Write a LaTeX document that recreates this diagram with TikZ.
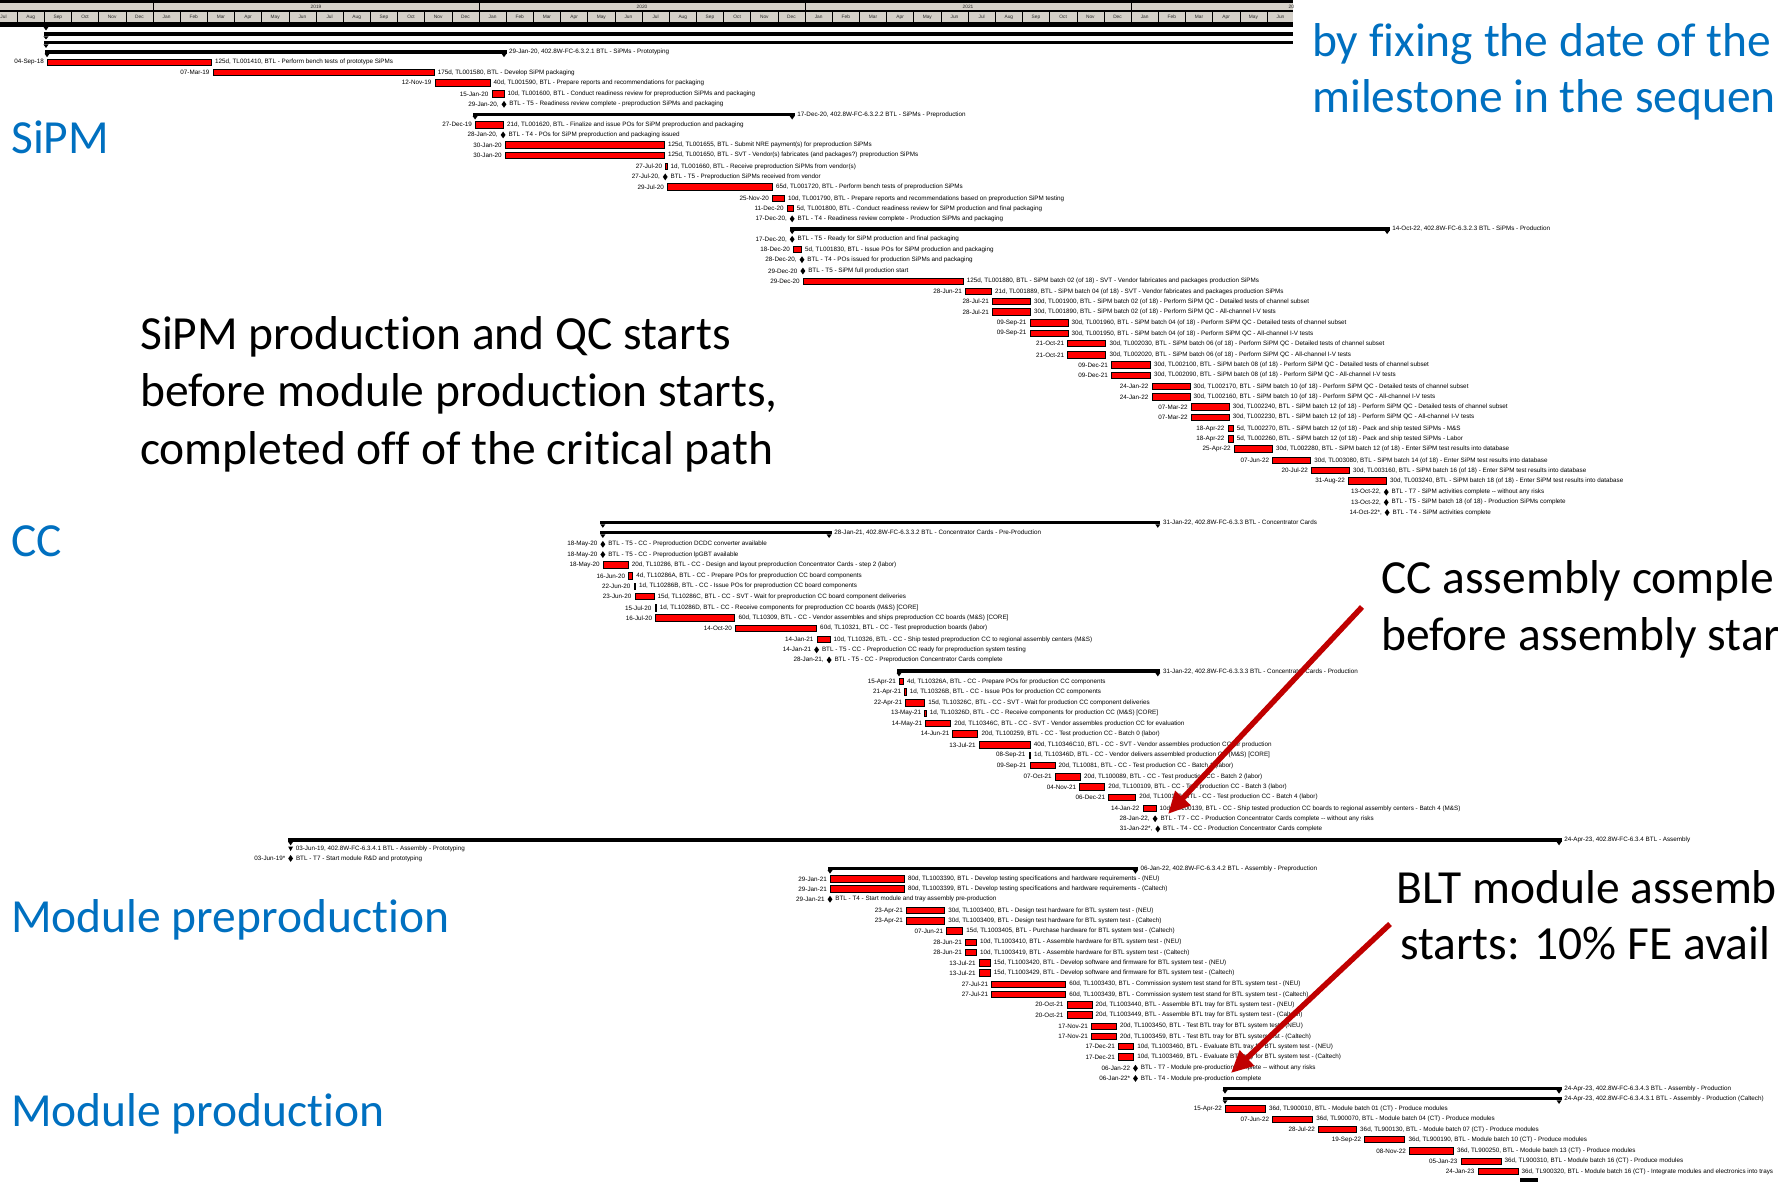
\documentclass[tikz,border=0pt]{standalone}
\usepackage{fontspec}
\setmainfont{Carlito}[Ligatures=NoCommon]
\newfontfamily\gfont{Liberation Sans}
\usetikzlibrary{shapes.geometric,arrows.meta}
\definecolor{hdrgray}{HTML}{D4D0C8}
\definecolor{noteblue}{HTML}{0070C0}
\definecolor{arrowred}{HTML}{C00000}
\definecolor{barred}{HTML}{FF0000}

% month name from index 0..11
\newcommand\gmonth[1]{\ifcase#1 Jan\or Feb\or Mar\or Apr\or May\or Jun\or Jul\or Aug\or Sep\or Oct\or Nov\or Dec\fi}

% task bar: name, row, year, month, day, width, start label, task text
\newcommand\gtask[8]{%
  \node[taskbar, minimum width={#6*1pt}, anchor=west] (#1) at ({gdx(#3,#4,#5)},{#2*1.134}) {};
  \node[lbl, anchor=east] (#1d) at ([xshift=-3pt]#1.west) {#7};
  \node[lbl, anchor=west] (#1t) at ([xshift=3pt]#1.east) {#8};
}
% milestone: name, row, year, month, day, date label, text
\newcommand\gms[7]{%
  \node[mdiamond] (#1) at ({gdx(#3,#4,#5)},{#2*1.134}) {};
  \node[lbl, anchor=east] (#1d) at ([xshift=-2.5pt]#1.west) {#6};
  \node[lbl, anchor=west] (#1t) at ([xshift=2.5pt]#1.east) {#7};
}
% summary bar: name, row, start y/m/d, end y/m/d, label
\newcommand\gsum[9]{%
  \pgfmathsetmacro\gxa{gdx(#3,#4,#5)}%
  \pgfmathsetmacro\gxb{gdx(#6,#7,#8)}%
  \pgfmathsetmacro\gyy{#2*1.134}%
  \fill (\gxa-2.5,\gyy-2) rectangle (\gxb+2.5,\gyy+1.5);
  \fill (\gxa-2.5,\gyy+1.5) -- (\gxa+2.5,\gyy+1.5) -- (\gxa,\gyy+5) -- cycle;
  \fill (\gxb-2.5,\gyy+1.5) -- (\gxb+2.5,\gyy+1.5) -- (\gxb,\gyy+5) -- cycle;
  \node[lbl, anchor=west] (#1) at (\gxb+5,\gyy) {#9};
}

\begin{document}
\begin{tikzpicture}[x=1pt,y=-1pt,
  declare function={gdx(\yr,\mo,\dy)=479+(\yr-2020)*326+(\mo-1)*27.17+(\dy-1)*0.893;},
  lbl/.style={font=\gfont\fontsize{6.3}{7}\selectfont, inner sep=0pt, text=black},
  hdr/.style={font=\gfont\fontsize{4.8}{5}\selectfont, inner sep=0pt, text=black!85},
  taskbar/.style={rectangle, fill=barred, draw=black, line width=0.9pt, minimum height=6.5pt, inner sep=0pt},
  mdiamond/.style={diamond, fill=black, inner sep=0pt, minimum width=5pt, minimum height=7pt},
  bignote/.style={font=\fontsize{47.5}{57}\selectfont, inner sep=0pt, anchor=base west},
  redarrow/.style={draw=arrowred, line width=5.5pt, -{Triangle[length=22pt,width=20pt]}}]

\clip (0,0) rectangle (1778,1182);
\fill[white] (0,0) rectangle (1778,1182);

% ---------- timescale header and top-level summaries ----------
\begin{scope}
\clip (0,0) rectangle (1293,60);
\fill[black] (0,0) rectangle (1293,3);
\fill[hdrgray] (0,3) rectangle (1293,10.5);
\fill[hdrgray] (0,11.5) rectangle (1293,22.5);
\draw[black, line width=0.5pt] (0,10.5) -- (1293,10.5) (0,11.5) -- (1293,11.5);
\foreach \yx in {152.96,479,805.04,1131.08}{
  \draw[black, line width=0.6pt] (\yx,3) -- (\yx,10.5);
}
\node[hdr] (y2019) at (316,7) {2019};
\node[hdr] (y2020) at (642,7) {2020};
\node[hdr] (y2021) at (968,7) {2021};
\node[hdr] (y2022) at (1294,7) {2022};
\foreach \k in {-18,...,29}{
  \pgfmathsetmacro\mx{479+\k*27.17}
  \pgfmathtruncatemacro\mi{mod(\k+36,12)}
  \draw[black, line width=0.5pt] (\mx,11.5) -- (\mx,22.5);
  \node[hdr] (m\k) at (\mx+13.6,17) {\gmonth{\mi}};
}
\fill[black] (0,22.5) rectangle (1293,27);
\fill (43.5,27) -- (48.5,27) -- (46,30.5) -- cycle;
\fill (43.5,32) rectangle (1293,36.5);
\fill (43.5,36.5) -- (48.5,36.5) -- (46,39.5) -- cycle;
\fill (43.5,41.5) rectangle (1293,44.5);
\fill (43.5,44.5) -- (48.5,44.5) -- (46,48) -- cycle;
\end{scope}

% ---------- SiPM ----------
\gsum{s0}{46}{2018}{9}{4}{2020}{1}{29}{29-Jan-20, 402.8W-FC-6.3.2.1 BTL - SiPMs - Prototyping}
\gtask{t1}{55}{2018}{9}{4}{164}{04-Sep-18}{125d, TL001410, BTL - Perform bench tests of prototype SiPMs}
\gtask{t2}{64}{2019}{3}{7}{221}{07-Mar-19}{175d, TL001580, BTL - Develop SiPM packaging}
\gtask{t3}{73}{2019}{11}{12}{55}{12-Nov-19}{40d, TL001590, BTL - Prepare reports and recommendations for packaging}
\gtask{t4}{83}{2020}{1}{15}{12}{15-Jan-20}{10d, TL001600, BTL - Conduct readiness review for preproduction SiPMs and packaging}
\gms{m5}{92}{2020}{1}{29}{29-Jan-20,}{BTL - T5 - Readiness review complete - preproduction SiPMs and packaging}
\gsum{s1}{101}{2019}{12}{27}{2020}{12}{17}{17-Dec-20, 402.8W-FC-6.3.2.2 BTL - SiPMs - Preproduction}
\gtask{t6}{110}{2019}{12}{27}{28}{27-Dec-19}{21d, TL001620, BTL - Finalize and issue POs for SiPM preproduction and packaging}
\gms{m7}{119}{2020}{1}{28}{28-Jan-20,}{BTL - T4 - POs for SiPM preproduction and packaging issued}
\gtask{t8}{128}{2020}{1}{30}{159}{30-Jan-20}{125d, TL001655, BTL - Submit NRE payment(s) for preproduction SiPMs}
\gtask{t9}{137}{2020}{1}{30}{159}{30-Jan-20}{125d, TL001650, BTL - SVT - Vendor(s) fabricates (and packages?) preproduction SiPMs}
\gtask{t10}{147}{2020}{7}{27}{1.3}{27-Jul-20}{1d, TL001660, BTL - Receive preproduction SiPMs from vendor(s)}
\gms{m11}{156}{2020}{7}{27}{27-Jul-20,}{BTL - T5 - Preproduction SiPMs received from vendor}
\gtask{t12}{165}{2020}{7}{29}{105}{29-Jul-20}{65d, TL001720, BTL - Perform bench tests of preproduction SiPMs}
\gtask{t13}{175}{2020}{11}{25}{12}{25-Nov-20}{10d, TL001790, BTL - Prepare reports and recommendations based on preproduction SiPM testing}
\gtask{t14}{184}{2020}{12}{11}{6}{11-Dec-20}{5d, TL001800, BTL - Conduct readiness review for SiPM production and final packaging}
\gms{m15}{193}{2020}{12}{17}{17-Dec-20,}{BTL - T4 - Readiness review complete - Production SiPMs and packaging}
\gsum{s2}{202}{2020}{12}{17}{2022}{10}{14}{14-Oct-22, 402.8W-FC-6.3.2.3 BTL - SiPMs - Production}
\gms{m16}{211}{2020}{12}{17}{17-Dec-20,}{BTL - T5 - Ready for SiPM production and final packaging}
\gtask{t17}{220}{2020}{12}{18}{8}{18-Dec-20}{5d, TL001830, BTL - Issue POs for SiPM production and packaging}
\gms{m18}{229}{2020}{12}{28}{28-Dec-20,}{BTL - T4 - POs issued for production SiPMs and packaging}
\gms{m19}{239}{2020}{12}{29}{29-Dec-20}{BTL - T5 - SiPM full production start}
\gtask{t20}{248}{2020}{12}{29}{160}{29-Dec-20}{125d, TL001880, BTL - SiPM batch 02 (of 18) - SVT - Vendor fabricates and packages production SiPMs}
\gtask{t21}{257}{2021}{6}{28}{26}{28-Jun-21}{21d, TL001889, BTL - SiPM batch 04 (of 18) - SVT - Vendor fabricates and packages production SiPMs}
\gtask{t22}{266}{2021}{7}{28}{38}{28-Jul-21}{30d, TL001900, BTL - SiPM batch 02 (of 18) - Perform SiPM QC - Detailed tests of channel subset}
\gtask{t23}{275}{2021}{7}{28}{38}{28-Jul-21}{30d, TL001890, BTL - SiPM batch 02 (of 18) - Perform SiPM QC - All-channel I-V tests}
\gtask{t24}{285}{2021}{9}{9}{38}{09-Sep-21}{30d, TL001960, BTL - SiPM batch 04 (of 18) - Perform SiPM QC - Detailed tests of channel subset}
\gtask{t25}{294}{2021}{9}{9}{38}{09-Sep-21}{30d, TL001950, BTL - SiPM batch 04 (of 18) - Perform SiPM QC - All-channel I-V tests}
\gtask{t26}{303}{2021}{10}{21}{38}{21-Oct-21}{30d, TL002030, BTL - SiPM batch 06 (of 18) - Perform SiPM QC - Detailed tests of channel subset}
\gtask{t27}{313}{2021}{10}{21}{38}{21-Oct-21}{30d, TL002020, BTL - SiPM batch 06 (of 18) - Perform SiPM QC - All-channel I-V tests}
\gtask{t28}{322}{2021}{12}{9}{39}{09-Dec-21}{30d, TL002100, BTL - SiPM batch 08 (of 18) - Perform SiPM QC - Detailed tests of channel subset}
\gtask{t29}{331}{2021}{12}{9}{39}{09-Dec-21}{30d, TL002090, BTL - SiPM batch 08 (of 18) - Perform SiPM QC - All-channel I-V tests}
\gtask{t30}{341}{2022}{1}{24}{38}{24-Jan-22}{30d, TL002170, BTL - SiPM batch 10 (of 18) - Perform SiPM QC - Detailed tests of channel subset}
\gtask{t31}{350}{2022}{1}{24}{38}{24-Jan-22}{30d, TL002160, BTL - SiPM batch 10 (of 18) - Perform SiPM QC - All-channel I-V tests}
\gtask{t32}{359}{2022}{3}{7}{38}{07-Mar-22}{30d, TL002240, BTL - SiPM batch 12 (of 18) - Perform SiPM QC - Detailed tests of channel subset}
\gtask{t33}{368}{2022}{3}{7}{38}{07-Mar-22}{30d, TL002230, BTL - SiPM batch 12 (of 18) - Perform SiPM QC - All-channel I-V tests}
\gtask{t34}{378}{2022}{4}{18}{5}{18-Apr-22}{5d, TL002270, BTL - SiPM batch 12 (of 18) - Pack and ship tested SiPMs - M\&S}
\gtask{t35}{387}{2022}{4}{18}{5}{18-Apr-22}{5d, TL002260, BTL - SiPM batch 12 (of 18) - Pack and ship tested SiPMs - Labor}
\gtask{t36}{396}{2022}{4}{25}{38}{25-Apr-22}{30d, TL002280, BTL - SiPM batch 12 (of 18) - Enter SiPM test results into database}
\gtask{t37}{406}{2022}{6}{7}{38}{07-Jun-22}{30d, TL003080, BTL - SiPM batch 14 (of 18) - Enter SiPM test results into database}
\gtask{t38}{415}{2022}{7}{20}{38}{20-Jul-22}{30d, TL003160, BTL - SiPM batch 16 (of 18) - Enter SiPM test results into database}
\gtask{t39}{424}{2022}{8}{31}{38}{31-Aug-22}{30d, TL003240, BTL - SiPM batch 18 (of 18) - Enter SiPM test results into database}
\gms{m40}{434}{2022}{10}{13}{13-Oct-22,}{BTL - T7 - SiPM activities complete -- without any risks}
\gms{m41}{443}{2022}{10}{13}{13-Oct-22,}{BTL - T5 - SiPM batch 18 (of 18) - Production SiPMs complete}
\gms{m42}{452}{2022}{10}{14}{14-Oct-22*,}{BTL - T4 - SiPM activities complete}

% ---------- Concentrator Cards ----------
\gsum{c0}{461}{2020}{5}{18}{2022}{1}{31}{31-Jan-22, 402.8W-FC-6.3.3 BTL - Concentrator Cards}
\gsum{c1}{470}{2020}{5}{18}{2021}{1}{28}{28-Jan-21, 402.8W-FC-6.3.3.2 BTL - Concentrator Cards - Pre-Production}
\gms{c2}{480}{2020}{5}{18}{18-May-20}{BTL - T5 - CC - Preproduction DCDC converter available}
\gms{c3}{489}{2020}{5}{18}{18-May-20}{BTL - T5 - CC - Preproduction lpGBT available}
\gtask{c4}{498}{2020}{5}{18}{25}{18-May-20}{20d, TL10286, BTL - CC - Design and layout preproduction Concentrator Cards - step 2 (labor)}
\gtask{c5}{508}{2020}{6}{16}{4}{16-Jun-20}{4d, TL10286A, BTL - CC - Prepare POs for preproduction CC board components}
\gtask{c6}{517}{2020}{6}{22}{1.3}{22-Jun-20}{1d, TL10286B, BTL - CC - Issue POs for preproduction CC board components}
\gtask{c7}{526}{2020}{6}{23}{19}{23-Jun-20}{15d, TL10286C, BTL - CC - SVT - Wait for preproduction CC board component deliveries}
\gtask{c8}{536}{2020}{7}{15}{1.3}{15-Jul-20}{1d, TL10286D, BTL - CC - Receive components for preproduction CC boards (M\&S) [CORE]}
\gtask{c9}{545}{2020}{7}{16}{79}{16-Jul-20}{60d, TL10309, BTL - CC - Vendor assembles and ships preproduction CC boards (M\&S) [CORE]}
\gtask{c10}{554}{2020}{10}{14}{81}{14-Oct-20}{60d, TL10321, BTL - CC - Test preproduction boards (labor)}
\gtask{c11}{564}{2021}{1}{14}{13}{14-Jan-21}{10d, TL10326, BTL - CC - Ship tested preproduction CC to regional assembly centers (M\&S)}
\gms{c12}{573}{2021}{1}{14}{14-Jan-21}{BTL - T5 - CC - Preproduction CC ready for preproduction system testing}
\gms{c13}{582}{2021}{1}{28}{28-Jan-21,}{BTL - T5 - CC - Preproduction Concentrator Cards complete}
\gsum{c14}{592}{2021}{4}{15}{2022}{1}{31}{31-Jan-22, 402.8W-FC-6.3.3.3 BTL - Concentrator Cards - Production}
\gtask{c15}{601}{2021}{4}{15}{4}{15-Apr-21}{4d, TL10326A, BTL - CC - Prepare POs for production CC components}
\gtask{c16}{610}{2021}{4}{21}{1.3}{21-Apr-21}{1d, TL10326B, BTL - CC - Issue POs for production CC components}
\gtask{c17}{620}{2021}{4}{22}{19}{22-Apr-21}{15d, TL10326C, BTL - CC - SVT - Wait for production CC component deliveries}
\gtask{c18}{629}{2021}{5}{13}{1.3}{13-May-21}{1d, TL10326D, BTL - CC - Receive components for production CC (M\&S) [CORE]}
\gtask{c19}{638}{2021}{5}{14}{25}{14-May-21}{20d, TL10346C, BTL - CC - SVT - Vendor assembles production CC for evaluation}
\gtask{c20}{647}{2021}{6}{14}{25}{14-Jun-21}{20d, TL100259, BTL - CC - Test production CC - Batch 0 (labor)}
\gtask{c21}{657}{2021}{7}{13}{51}{13-Jul-21}{40d, TL10346C10, BTL - CC - SVT - Vendor assembles production CC for production}
\gtask{c22}{666}{2021}{9}{8}{1.3}{08-Sep-21}{1d, TL10346D, BTL - CC - Vendor delivers assembled production CC (M\&S) [CORE]}
\gtask{c23}{675}{2021}{9}{9}{25}{09-Sep-21}{20d, TL10081, BTL - CC - Test production CC - Batch 1 (labor)}
\gtask{c24}{685}{2021}{10}{7}{25}{07-Oct-21}{20d, TL100089, BTL - CC - Test production CC - Batch 2 (labor)}
\gtask{c25}{694}{2021}{11}{4}{25}{04-Nov-21}{20d, TL100109, BTL - CC - Test production CC - Batch 3 (labor)}
\gtask{c26}{703}{2021}{12}{6}{27}{06-Dec-21}{20d, TL100129, BTL - CC - Test production CC - Batch 4 (labor)}
\gtask{c27}{713}{2022}{1}{14}{13}{14-Jan-22}{10d, TL100139, BTL - CC - Ship tested production CC boards to regional assembly centers - Batch 4 (M\&S)}
\gms{c28}{722}{2022}{1}{28}{28-Jan-22,}{BTL - T7 - CC - Production Concentrator Cards complete -- without any risks}
\gms{c29}{731}{2022}{1}{31}{31-Jan-22*,}{BTL - T4 - CC - Production Concentrator Cards complete}

% ---------- Assembly ----------
\gsum{a0}{741}{2019}{6}{3}{2023}{4}{24}{24-Apr-23, 402.8W-FC-6.3.4 BTL - Assembly}
\pgfmathsetmacro\gxa{gdx(2019,6,3)}
\fill (\gxa-2.5,846.5) -- (\gxa+2.5,846.5) -- (\gxa,851) -- cycle;
\node[lbl, anchor=west] (a1) at (\gxa+5,849.3) {03-Jun-19, 402.8W-FC-6.3.4.1 BTL - Assembly - Prototyping};
\gms{a2}{757}{2019}{6}{3}{03-Jun-19*}{BTL - T7 - Start module R\&D and prototyping}
\gsum{a3}{766}{2021}{1}{29}{2022}{1}{6}{06-Jan-22, 402.8W-FC-6.3.4.2 BTL - Assembly - Preproduction}
\gtask{a4}{775}{2021}{1}{29}{74}{29-Jan-21}{80d, TL1003390, BTL - Develop testing specifications and hardware requirements - (NEU)}
\gtask{a5}{784}{2021}{1}{29}{74}{29-Jan-21}{80d, TL1003399, BTL - Develop testing specifications and hardware requirements - (Caltech)}
\gms{a6}{793}{2021}{1}{29}{29-Jan-21}{BTL - T4 - Start module and tray assembly pre-production}
\gtask{a7}{803}{2021}{4}{23}{38}{23-Apr-21}{30d, TL1003400, BTL - Design test hardware for BTL system test - (NEU)}
\gtask{a8}{812}{2021}{4}{23}{38}{23-Apr-21}{30d, TL1003409, BTL - Design test hardware for BTL system test - (Caltech)}
\gtask{a9}{821}{2021}{6}{7}{16}{07-Jun-21}{15d, TL1003405, BTL - Purchase hardware for BTL system test - (Caltech)}
\gtask{a10}{831}{2021}{6}{28}{11}{28-Jun-21}{10d, TL1003410, BTL - Assemble hardware for BTL system test - (NEU)}
\gtask{a11}{840}{2021}{6}{28}{11}{28-Jun-21}{10d, TL1003419, BTL - Assemble hardware for BTL system test - (Caltech)}
\gtask{a12}{849}{2021}{7}{13}{11}{13-Jul-21}{15d, TL1003420, BTL - Develop software and firmware for BTL system test - (NEU)}
\gtask{a13}{858}{2021}{7}{13}{11}{13-Jul-21}{15d, TL1003429, BTL - Develop software and firmware for BTL system test - (Caltech)}
\gtask{a14}{868}{2021}{7}{27}{74}{27-Jul-21}{60d, TL1003430, BTL - Commission system test stand for BTL system test - (NEU)}
\gtask{a15}{877}{2021}{7}{27}{74}{27-Jul-21}{60d, TL1003439, BTL - Commission system test stand for BTL system test - (Caltech)}
\gtask{a16}{886}{2021}{10}{20}{25}{20-Oct-21}{20d, TL1003440, BTL - Assemble BTL tray for BTL system test - (NEU)}
\gtask{a17}{895}{2021}{10}{20}{25}{20-Oct-21}{20d, TL1003449, BTL - Assemble BTL tray for BTL system test - (Caltech)}
\gtask{a18}{905}{2021}{11}{17}{25}{17-Nov-21}{20d, TL1003450, BTL - Test BTL tray for BTL system test - (NEU)}
\gtask{a19}{914}{2021}{11}{17}{25}{17-Nov-21}{20d, TL1003459, BTL - Test BTL tray for BTL system test - (Caltech)}
\gtask{a20}{923}{2021}{12}{17}{15}{17-Dec-21}{10d, TL1003460, BTL - Evaluate BTL tray for BTL system test - (NEU)}
\gtask{a21}{932}{2021}{12}{17}{15}{17-Dec-21}{10d, TL1003469, BTL - Evaluate BTL tray for BTL system test - (Caltech)}
\gms{a22}{942}{2022}{1}{6}{06-Jan-22}{BTL - T7 - Module pre-production complete -- without any risks}
\gms{a23}{951}{2022}{1}{6}{06-Jan-22*}{BTL - T4 - Module pre-production complete}
\gsum{a24}{960}{2022}{4}{15}{2023}{4}{24}{24-Apr-23, 402.8W-FC-6.3.4.3 BTL - Assembly - Production}
\gsum{a25}{969}{2022}{4}{15}{2023}{4}{24}{24-Apr-23, 402.8W-FC-6.3.4.3.1 BTL - Assembly - Production (Caltech)}
\gtask{a26}{978}{2022}{4}{15}{40}{15-Apr-22}{36d, TL900010, BTL - Module batch 01 (CT) - Produce modules}
\gtask{a27}{987}{2022}{6}{7}{40}{07-Jun-22}{36d, TL900070, BTL - Module batch 04 (CT) - Produce modules}
\gtask{a28}{996}{2022}{7}{28}{38}{28-Jul-22}{36d, TL900130, BTL - Module batch 07 (CT) - Produce modules}
\gtask{a29}{1005}{2022}{9}{19}{40}{19-Sep-22}{36d, TL900190, BTL - Module batch 10 (CT) - Produce modules}
\gtask{a30}{1015}{2022}{11}{8}{44}{08-Nov-22}{36d, TL900250, BTL - Module batch 13 (CT) - Produce modules}
\gtask{a31}{1024}{2023}{1}{5}{40}{05-Jan-23}{36d, TL900310, BTL - Module batch 16 (CT) - Produce modules}
\gtask{a32}{1033}{2023}{1}{24}{40}{24-Jan-23}{36d, TL900320, BTL - Module batch 16 (CT) - Integrate modules and electronics into trays}
\fill (1520,1178) rectangle (1538,1190);

% ---------- notes ----------
\node[bignote, text=noteblue] (n1a) at (1312,57) {by fixing the date of the};
\node[bignote, text=noteblue] (n1b) at (1312,113) {milestone in the sequen};
\node[bignote, text=noteblue] (lsipm) at (11,154) {SiPM};
\node[bignote] (n2a) at (140,349) {SiPM production and QC starts};
\node[bignote] (n2b) at (140,406) {before module production starts,};
\node[bignote] (n2c) at (140,464) {completed off of the critical path};
\node[bignote, text=noteblue] (lcc) at (11,556) {CC};
\node[bignote] (n3a) at (1381,593) {CC assembly comple};
\node[bignote] (n3b) at (1381,650) {before assembly star};
\node[bignote] (n4a) at (1396,903) {BLT module assemb};
\node[bignote] (n4b) at (1400,959) {starts: 10\% FE avail};
\node[bignote, text=noteblue] (lpre) at (11,932) {Module preproduction};
\node[bignote, text=noteblue] (lprod) at (11,1126) {Module production};

% ---------- pointers ----------
\coordinate (p1s) at (1362,607);
\coordinate (p1e) at (1168,814);
\coordinate (p2s) at (1390,924);
\coordinate (p2e) at (1231,1073);
\draw[redarrow] (p1s) -- (p1e);
\draw[redarrow] (p2s) -- (p2e);
\end{tikzpicture}
\end{document}
